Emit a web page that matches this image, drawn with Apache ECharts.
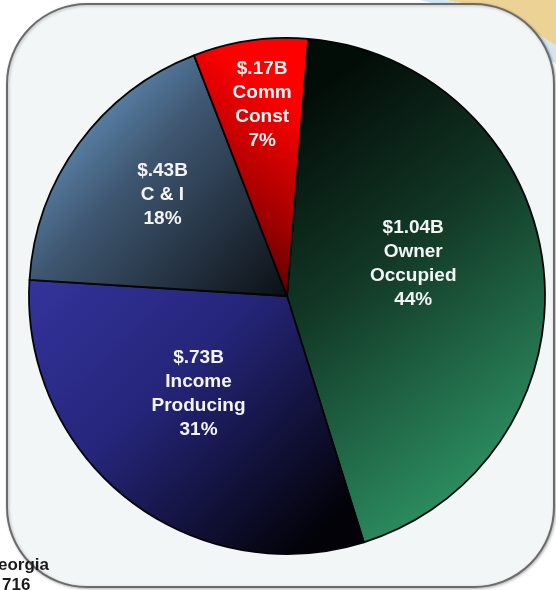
<!DOCTYPE html>
<html>
<head>
<meta charset="utf-8">
<script src="https://cdn.jsdelivr.net/npm/echarts@6/dist/echarts.min.js"></script>
<style>
  html, body { margin: 0; padding: 0; background: #ffffff; }
  #chart { width: 556px; height: 590px; }
</style>
</head>
<body>
<div id="chart"></div>
<script>
// ---- data ----
const categories = ['Owner Occupied', 'Income Producing', 'C & I', 'Comm Const'];
const amounts = [1.04, 0.73, 0.43, 0.17];           // $ billions
const amountLabels = ['$1.04B', '$.73B', '$.43B', '$.17B'];
const labelNames = ['Owner\nOccupied', 'Income\nProducing', 'C & I', 'Comm\nConst'];
const percents = ['44%', '31%', '18%', '7%'];
const footerLines = ['eorgia', '716'];

// ---- styles (not data) ----
const sliceGradients = [
  { x: 0, y: 0.15, x2: 1, y2: 0.85, stops: [['#030d08', 0], ['#123826', 0.4], ['#2f9767', 1]] },
  { x: 0, y: 0, x2: 0.8, y2: 1, stops: [['#33339c', 0], ['#25257a', 0.45], ['#020208', 1]] },
  { x: 0, y: 0, x2: 1, y2: 1, stops: [['#7ab4ea', 0], ['#3e5670', 0.45], ['#0b0f14', 1]] },
  { x: 0, y: 0.9, x2: 1, y2: 0.3, stops: [['#300000', 0], ['#a00000', 0.45], ['#ff0000', 1]] }
];
const labelOffsets = [[-5, -18], [-7, -6], [-18, -23], [-6, -61]];

function grad(g) {
  return new echarts.graphic.LinearGradient(g.x, g.y, g.x2, g.y2,
    g.stops.map(s => ({ offset: s[1], color: s[0] })));
}

const pieData = categories.map((c, i) => ({
  name: c,
  value: amounts[i],
  itemStyle: { color: grad(sliceGradients[i]) },
  label: {
    offset: labelOffsets[i],
    formatter: amountLabels[i] + '\n' + labelNames[i] + '\n' + percents[i]
  }
}));

const chart = echarts.init(document.getElementById('chart'), null, { renderer: 'canvas' });
chart.setOption({
  backgroundColor: '#ffffff',
  animation: false,
  graphic: [
    { type: 'polygon', z: 0, shape: { points: [[445, 0], [556, 0], [556, 46], [522, 24], [488, 8]] },
      style: { fill: '#ecd395' } },
    { type: 'polygon', z: 0, shape: { points: [[420, 0], [445, 0], [488, 8], [522, 24], [556, 46], [556, 64], [522, 38], [476, 14]] },
      style: { fill: '#d4e6f2' } },
    { type: 'rect', z: 1, shape: { x: 7, y: 4, width: 547, height: 583, r: 80 },
      style: { fill: '#f2f6f7', stroke: '#6b6b6b', lineWidth: 2,
               shadowColor: 'rgba(0,0,0,0.25)', shadowBlur: 3, shadowOffsetX: 1, shadowOffsetY: 1 } },
    { type: 'text', z: 5, left: -2, top: 557,
      style: { text: footerLines[0], font: 'bold 17px "Liberation Sans", Arial, sans-serif', fill: '#1a1a1a' } },
    { type: 'text', z: 5, left: 2, top: 577,
      style: { text: footerLines[1], font: 'bold 17px "Liberation Sans", Arial, sans-serif', fill: '#1a1a1a' } }
  ],
  series: [{
    type: 'pie',
    z: 3,
    center: [287, 296],
    radius: 258,
    startAngle: 85.3,
    clockwise: true,
    avoidLabelOverlap: false,
    itemStyle: { borderColor: '#050505', borderWidth: 1.8 },
    emphasis: { disabled: true },
    labelLine: { show: false },
    label: {
      show: true,
      position: 'inside',
      color: '#f4f4f4',
      fontFamily: '"Liberation Sans", Arial, sans-serif',
      fontWeight: 'bold',
      fontSize: 19,
      lineHeight: 24,
      align: 'center'
    },
    data: pieData
  }]
});
</script>
</body>
</html>
